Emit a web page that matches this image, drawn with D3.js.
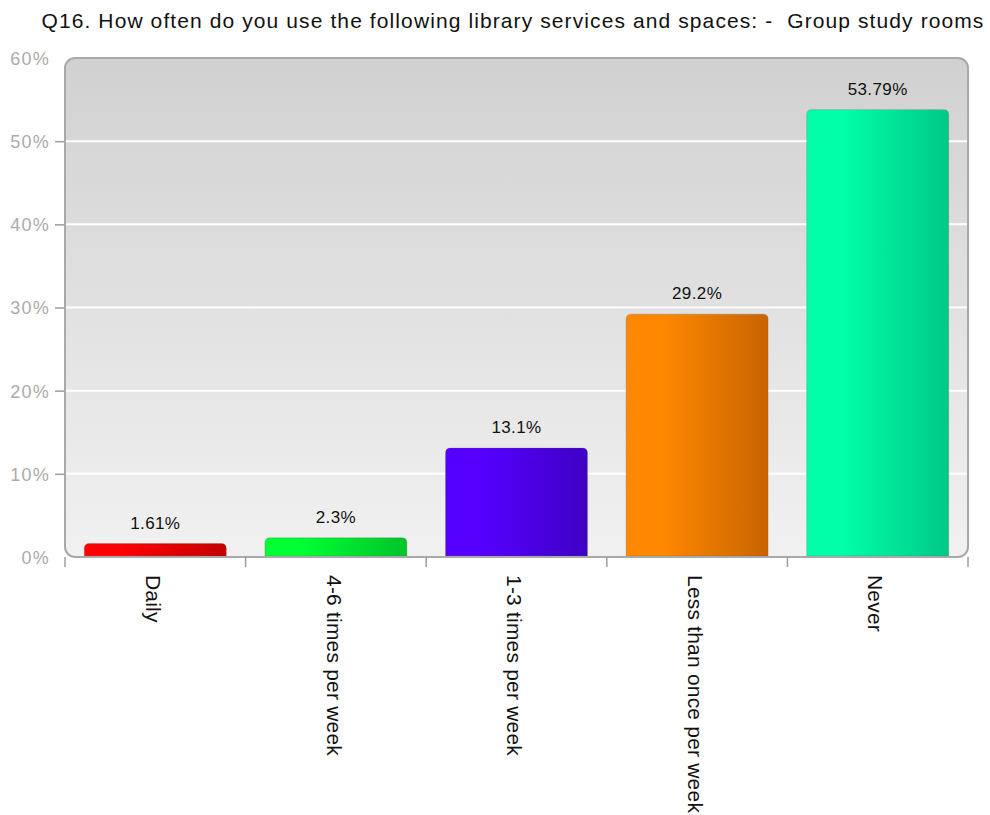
<!DOCTYPE html>
<html>
<head>
<meta charset="utf-8">
<script src="https://cdn.jsdelivr.net/npm/d3@7/dist/d3.min.js"></script>
<style>
  html, body { margin: 0; padding: 0; background: #ffffff; }
  svg { display: block; font-family: "Liberation Sans", Arial, sans-serif; }
  text { white-space: pre; }
</style>
</head>
<body>
<svg id="chart" width="990" height="815"></svg>
<script>
// Survey responses: share of respondents per usage frequency
const categories = ["Daily", "4-6 times per week", "1-3 times per week", "Less than once per week", "Never"];
const values = [1.61, 2.3, 13.1, 29.2, 53.79];
const valueLabels = ["1.61%", "2.3%", "13.1%", "29.2%", "53.79%"];
const yTicks = [0, 10, 20, 30, 40, 50, 60];
const yTickLabels = ["0%", "10%", "20%", "30%", "40%", "50%", "60%"];
const barColorsLight = ["#ff0000", "#00ff33", "#5500ff", "#ff8800", "#00ffa8"];
const barColorsDark = ["#c40000", "#00c42a", "#3f00c4", "#c86400", "#00c888"];
const title = "Q16. How often do you use the following library services and spaces: -  Group study rooms";

const svg = d3.select("#chart");
const plot = { left: 65, right: 968, top: 58, bottom: 557 };

const x = d3.scaleBand()
  .domain(categories)
  .range([plot.left, plot.right])
  .paddingInner(0.214)
  .paddingOuter(0.107);

const y = d3.scaleLinear()
  .domain([0, 60])
  .range([plot.bottom, plot.top]);

const defs = svg.append("defs");

// plot background: soft vertical gray gradient
const bg = defs.append("linearGradient")
  .attr("id", "bgGrad").attr("x1", 0).attr("y1", 0).attr("x2", 0).attr("y2", 1);
bg.append("stop").attr("offset", "0%").attr("stop-color", "#d1d1d1");
bg.append("stop").attr("offset", "100%").attr("stop-color", "#f1f1f1");

// horizontal gradient per bar, bright on the left, darker on the right
categories.forEach((c, i) => {
  const g = defs.append("linearGradient")
    .attr("id", "barGrad" + i).attr("x1", 0).attr("y1", 0).attr("x2", 1).attr("y2", 0);
  g.append("stop").attr("offset", "0%").attr("stop-color", barColorsLight[i]);
  g.append("stop").attr("offset", "25%").attr("stop-color", barColorsLight[i]);
  g.append("stop").attr("offset", "100%").attr("stop-color", barColorsDark[i]);
});

// title
svg.append("text")
  .attr("x", 513)
  .attr("y", 28)
  .attr("text-anchor", "middle")
  .attr("font-size", 21)
  .attr("letter-spacing", 1.1)
  .attr("fill", "#111")
  .text(title);

// plot area
svg.append("rect")
  .attr("x", plot.left)
  .attr("y", plot.top)
  .attr("width", plot.right - plot.left)
  .attr("height", plot.bottom - plot.top)
  .attr("rx", 10).attr("ry", 10)
  .attr("fill", "url(#bgGrad)");

// gridlines
svg.append("g")
  .selectAll("line")
  .data(yTicks.filter(t => t > 0 && t < 60))
  .join("line")
  .attr("x1", plot.left).attr("x2", plot.right)
  .attr("y1", d => y(d)).attr("y2", d => y(d))
  .attr("stroke", "#ffffff")
  .attr("stroke-width", 2);

// y axis: ticks and labels
const yAxis = d3.axisLeft(y)
  .tickValues(yTicks)
  .tickFormat((d, i) => yTickLabels[i])
  .tickSize(9)
  .tickPadding(5);
const yg = svg.append("g")
  .attr("transform", `translate(${plot.left - 1},0)`)
  .call(yAxis);
yg.select(".domain").remove();
yg.selectAll(".tick line")
  .attr("stroke", "#9c9c9c")
  .attr("stroke-width", 1.5)
  .attr("display", d => (d === 0 || d === 60) ? "none" : null);
yg.selectAll(".tick text")
  .attr("font-size", 18)
  .attr("letter-spacing", 1.2)
  .attr("font-family", "Liberation Sans, Arial, sans-serif")
  .attr("fill", "#ababab")
  .attr("dy", "0.36em");

// bars with rounded top corners
function barPath(x0, w, yTop, yBase, r) {
  const rr = Math.min(r, (yBase - yTop), w / 2);
  return `M${x0},${yBase}V${yTop + rr}Q${x0},${yTop} ${x0 + rr},${yTop}` +
         `H${x0 + w - rr}Q${x0 + w},${yTop} ${x0 + w},${yTop + rr}V${yBase}Z`;
}

svg.append("g")
  .selectAll("path")
  .data(values)
  .join("path")
  .attr("d", (d, i) => barPath(x(categories[i]), x.bandwidth(), y(d), plot.bottom - 1, 5))
  .attr("fill", (d, i) => `url(#barGrad${i})`)
  .attr("stroke", "rgba(90,90,90,0.25)")
  .attr("stroke-width", 1);

// value labels above bars
svg.append("g")
  .selectAll("text")
  .data(values)
  .join("text")
  .attr("x", (d, i) => x(categories[i]) + x.bandwidth() / 2)
  .attr("y", d => y(d) - 15)
  .attr("text-anchor", "middle")
  .attr("font-size", 17)
  .attr("letter-spacing", 0.4)
  .attr("fill", "#111")
  .text((d, i) => valueLabels[i]);

// plot border drawn over the bars
svg.append("rect")
  .attr("x", plot.left)
  .attr("y", plot.top)
  .attr("width", plot.right - plot.left)
  .attr("height", plot.bottom - plot.top)
  .attr("rx", 10).attr("ry", 10)
  .attr("fill", "none")
  .attr("stroke", "#a9a9a9")
  .attr("stroke-width", 2);

// x axis ticks at category boundaries
const boundaries = categories.map(c => x(c) - x.step() * x.paddingInner() / 2)
  .concat([plot.right]);
boundaries[0] = plot.left;
svg.append("g")
  .selectAll("line")
  .data(boundaries)
  .join("line")
  .attr("x1", d => d).attr("x2", d => d)
  .attr("y1", plot.bottom).attr("y2", plot.bottom + 10)
  .attr("stroke", "#9c9c9c")
  .attr("stroke-width", 1.5);

// category labels, rotated to read top to bottom
svg.append("g")
  .selectAll("text")
  .data(categories)
  .join("text")
  .attr("transform", c => `translate(${x(c) + x.bandwidth() / 2 - 2},${plot.bottom + 18}) rotate(90)`)
  .attr("dy", "0.35em")
  .attr("text-anchor", "start")
  .attr("font-size", 21)
  .attr("letter-spacing", 0.2)
  .attr("fill", "#111")
  .text(c => c);
</script>
</body>
</html>
